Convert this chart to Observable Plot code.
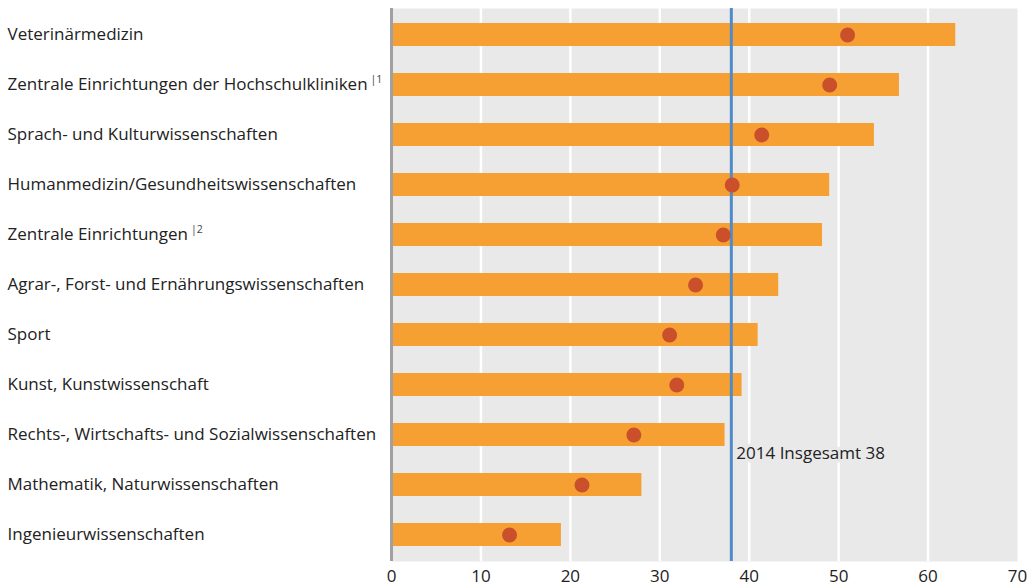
<!DOCTYPE html>
<html><head><meta charset="utf-8">
<script src="https://cdn.jsdelivr.net/npm/d3@7"></script>
<script src="https://cdn.jsdelivr.net/npm/@observablehq/plot@0.6"></script>
<style>body{margin:0;background:#fff;} svg{display:block}</style>
</head><body><div id="chart"></div>
<script>
const categories = [
  "Veterinärmedizin",
  "Zentrale Einrichtungen der Hochschulkliniken",
  "Sprach- und Kulturwissenschaften",
  "Humanmedizin/Gesundheitswissenschaften",
  "Zentrale Einrichtungen",
  "Agrar-, Forst- und Ernährungswissenschaften",
  "Sport",
  "Kunst, Kunstwissenschaft",
  "Rechts-, Wirtschafts- und Sozialwissenschaften",
  "Mathematik, Naturwissenschaften",
  "Ingenieurwissenschaften"
];
const notes = ["", "1", "", "", "2", "", "", "", "", "", ""];
const barValues = [63.1, 56.8, 54.0, 49.0, 48.2, 43.3, 41.0, 39.2, 37.3, 28.0, 19.0];
const dotValues = [51.0, 49.0, 41.4, 38.1, 37.1, 34.0, 31.1, 31.9, 27.1, 21.3, 13.2];
const overall = 38;
const overallLabel = "2014 Insgesamt 38";
const xTicks = [0, 10, 20, 30, 40, 50, 60, 70];

const data = categories.map((c, i) => ({category: c, bar: barValues[i], dot: dotValues[i]}));

const plot = Plot.plot({
  width: 1027, height: 586,
  marginLeft: 391, marginRight: 10, marginTop: 8, marginBottom: 25,
  style: {fontFamily: "'Open Sans', sans-serif", fontSize: "17px", color: "#222", background: "#fff"},
  x: {domain: [0, 70]},
  y: {domain: categories, paddingInner: 0.54, paddingOuter: 0.27, axis: null},
  marks: [
    Plot.frame({fill: "#e9e9e9", stroke: "none"}),
    Plot.ruleX(xTicks.filter(d => d > 0 && d < 70), {stroke: "#fff", strokeWidth: 2.5}),
    Plot.barX(data, {y: "category", x: "bar", fill: "#f6a033"}),
    Plot.ruleX([0], {stroke: "#a0a0a0", strokeWidth: 3}),
    Plot.ruleX([overall], {stroke: "#4f8bcb", strokeWidth: 3}),
    Plot.dot(data, {y: "category", x: "dot", r: 7.5, fill: "#c9502a"}),
    Plot.text([overallLabel], {x: () => overall, y: () => categories[8], text: d => d, dy: 19, dx: 5, textAnchor: "start", fill: "#222", stroke: "#e9e9e9", strokeWidth: 7, fontSize: 17}),
    Plot.axisX({ticks: xTicks, tickSize: 0, tickPadding: 8, fontSize: 17, color: "#222"}),
    Plot.text(categories, {y: d => d, text: d => d, frameAnchor: "left", dx: -384, textAnchor: "start", fill: "#222", fontSize: 17})
  ]
});

d3.select(plot).selectAll("text").each(function() {
  const t = this.textContent;
  const i = categories.indexOf(t);
  if (i >= 0 && notes[i]) {
    d3.select(this).append("tspan")
      .attr("font-size", 10.5)
      .attr("dx", 3)
      .attr("dy", "-0.7em")
      .attr("fill", "#444")
      .text("|" + notes[i]);
  }
});

document.getElementById("chart").appendChild(plot);
</script>
</body></html>
